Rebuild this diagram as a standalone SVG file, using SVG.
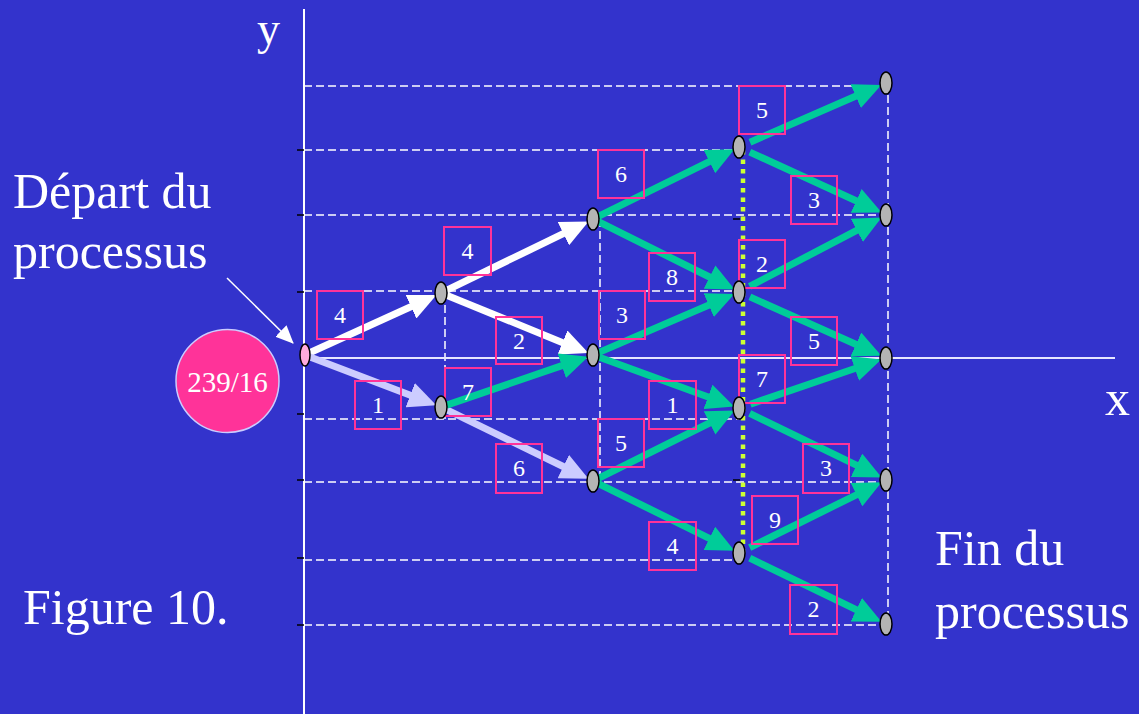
<svg xmlns="http://www.w3.org/2000/svg" width="1139" height="714" viewBox="0 0 1139 714">
<style>
.t{font-family:"Liberation Serif","Times New Roman",serif;fill:#ffffff}
.big{font-size:50px}
.lbl{font-size:24px;text-anchor:middle}
.box{fill:none;stroke:#ff3399;stroke-width:2}
.dash{stroke:#ffffff;stroke-width:1.5;stroke-dasharray:8 4;fill:none}
.tick{stroke:#000000;stroke-width:1.5}
.node{fill:#b4b4b4;stroke:#000000;stroke-width:1.5}
.aw{stroke:#ffffff;stroke-width:7;fill:none;marker-end:url(#mw)}
.al{stroke:#ccccff;stroke-width:7;fill:none;marker-end:url(#ml)}
.ag{stroke:#00cc99;stroke-width:7;fill:none;marker-end:url(#mg)}
</style>
<defs>
<marker id="mw" markerUnits="userSpaceOnUse" viewBox="0 -13 28 26" refX="1" refY="0" markerWidth="28" markerHeight="26" orient="auto"><path d="M0,-13 L28,0 L0,13 z" fill="#ffffff"/></marker>
<marker id="ml" markerUnits="userSpaceOnUse" viewBox="0 -13 28 26" refX="1" refY="0" markerWidth="28" markerHeight="26" orient="auto"><path d="M0,-13 L28,0 L0,13 z" fill="#ccccff"/></marker>
<marker id="mg" markerUnits="userSpaceOnUse" viewBox="0 -13 28 26" refX="1" refY="0" markerWidth="28" markerHeight="26" orient="auto"><path d="M0,-13 L28,0 L0,13 z" fill="#00cc99"/></marker>
<marker id="mp" markerUnits="userSpaceOnUse" viewBox="0 -8 18 16" refX="17" refY="0" markerWidth="18" markerHeight="16" orient="auto"><path d="M0,-8 L18,0 L0,8 z" fill="#ffffff"/></marker>
</defs>
<rect x="0" y="0" width="1139" height="714" fill="#3333cc"/>

<g id="grid">
<line class="dash" x1="304" y1="86" x2="886" y2="86"/>
<line class="dash" x1="304" y1="150" x2="739" y2="150"/>
<line class="dash" x1="304" y1="215" x2="886" y2="215"/>
<line class="dash" x1="304" y1="291" x2="739" y2="291"/>
<line class="dash" x1="304" y1="419" x2="739" y2="419"/>
<line class="dash" x1="304" y1="482" x2="886" y2="482"/>
<line class="dash" x1="304" y1="560" x2="739" y2="560"/>
<line class="dash" x1="304" y1="625" x2="886" y2="625"/>
<line class="dash" x1="445" y1="293" x2="445" y2="419"/>
<line class="dash" x1="600" y1="219" x2="600" y2="482"/>
<line class="dash" x1="888" y1="83" x2="888" y2="624"/>
<line x1="743" y1="150" x2="743" y2="553" stroke="#ccff33" stroke-width="4.5" stroke-dasharray="4.5 5"/>
</g>

<g id="axes">
<line x1="304" y1="9" x2="304" y2="714" stroke="#ffffff" stroke-width="2"/>
<line x1="304" y1="358" x2="1115" y2="358" stroke="#e6e6ff" stroke-width="2"/>
<line class="tick" x1="297" y1="150" x2="304" y2="150"/>
<line class="tick" x1="297" y1="215" x2="304" y2="215"/>
<line class="tick" x1="297" y1="292" x2="304" y2="292"/>
<line class="tick" x1="297" y1="414" x2="304" y2="414"/>
<line class="tick" x1="297" y1="480" x2="304" y2="480"/>
<line class="tick" x1="297" y1="558" x2="304" y2="558"/>
<line class="tick" x1="297" y1="625" x2="304" y2="625"/>
<line class="tick" x1="733" y1="219" x2="740" y2="219"/>
<line class="tick" x1="733" y1="480" x2="740" y2="480"/>
<text class="t" x="257" y="44" font-size="46">y</text>
<text class="t big" x="1105" y="415">x</text>
</g>

<g id="connectors">
<line class="aw" x1="308.6" y1="353.3" x2="411.9" y2="306.3"/>
<line class="aw" x1="446.4" y1="290.3" x2="564.3" y2="233.2"/>
<line class="aw" x1="446.6" y1="295.3" x2="563.4" y2="342.9"/>
<line class="al" x1="308.7" y1="356.4" x2="411.1" y2="395.6"/>
<line class="al" x1="446.4" y1="409.6" x2="564.2" y2="467.0"/>
<line class="ag" x1="446.7" y1="405.1" x2="562.7" y2="365.4"/>
<line class="ag" x1="598.4" y1="216.3" x2="710.3" y2="161.2"/>
<line class="ag" x1="598.4" y1="221.7" x2="710.5" y2="277.5"/>
<line class="ag" x1="598.5" y1="352.6" x2="709.6" y2="304.7"/>
<line class="ag" x1="598.7" y1="357.0" x2="708.9" y2="397.3"/>
<line class="ag" x1="598.4" y1="478.3" x2="710.5" y2="422.5"/>
<line class="ag" x1="598.4" y1="483.7" x2="710.3" y2="538.8"/>
<line class="ag" x1="750.0" y1="142.2" x2="856.6" y2="95.7"/>
<line class="ag" x1="749.8" y1="152.1" x2="857.1" y2="201.3"/>
<line class="ag" x1="749.6" y1="286.4" x2="857.7" y2="229.9"/>
<line class="ag" x1="749.9" y1="296.9" x2="856.8" y2="344.8"/>
<line class="ag" x1="750.4" y1="404.2" x2="855.7" y2="368.2"/>
<line class="ag" x1="749.7" y1="413.4" x2="857.4" y2="465.7"/>
<line class="ag" x1="749.7" y1="547.6" x2="857.4" y2="494.3"/>
<line class="ag" x1="749.8" y1="558.2" x2="857.2" y2="610.1"/>
<line x1="227" y1="278" x2="293" y2="343" stroke="#ffffff" stroke-width="1.5" marker-end="url(#mp)"/>
</g>

<g id="labels">
<rect class="box" x="317" y="291" width="46" height="48"/><text class="t lbl" x="340" y="323">4</text>
<rect class="box" x="355" y="381" width="46" height="48"/><text class="t lbl" x="378" y="413">1</text>
<rect class="box" x="444" y="227" width="47" height="48"/><text class="t lbl" x="467.5" y="259">4</text>
<rect class="box" x="445" y="368" width="46" height="48"/><text class="t lbl" x="468" y="400">7</text>
<rect class="box" x="496" y="317" width="46" height="47"/><text class="t lbl" x="519" y="349">2</text>
<rect class="box" x="496" y="444" width="46" height="49"/><text class="t lbl" x="519" y="476">6</text>
<rect class="box" x="598" y="150" width="46" height="48"/><text class="t lbl" x="621" y="182">6</text>
<rect class="box" x="599" y="291" width="46" height="48"/><text class="t lbl" x="622" y="323">3</text>
<rect class="box" x="598" y="419" width="46" height="48"/><text class="t lbl" x="621" y="451">5</text>
<rect class="box" x="649" y="253" width="46" height="48"/><text class="t lbl" x="672" y="285">8</text>
<rect class="box" x="649" y="381" width="47" height="48"/><text class="t lbl" x="672.5" y="413">1</text>
<rect class="box" x="649" y="522" width="47" height="48"/><text class="t lbl" x="672.5" y="554">4</text>
<rect class="box" x="739" y="86" width="46" height="48"/><text class="t lbl" x="762" y="118">5</text>
<rect class="box" x="739" y="240" width="46" height="48"/><text class="t lbl" x="762" y="272">2</text>
<rect class="box" x="739" y="355" width="46" height="48"/><text class="t lbl" x="762" y="387">7</text>
<rect class="box" x="791" y="176" width="46" height="48"/><text class="t lbl" x="814" y="208">3</text>
<rect class="box" x="791" y="317" width="46" height="48"/><text class="t lbl" x="814" y="349">5</text>
<rect class="box" x="803" y="444" width="46" height="49"/><text class="t lbl" x="826" y="476">3</text>
<rect class="box" x="752" y="496" width="46" height="48"/><text class="t lbl" x="775" y="528">9</text>
<rect class="box" x="790" y="585" width="47" height="49"/><text class="t lbl" x="813.5" y="617">2</text>
</g>

<g id="node-start"><ellipse cx="305" cy="355" rx="5" ry="11" fill="#ffaadd" stroke="#000" stroke-width="1.5"/></g>
<g id="node-a1"><ellipse class="node" cx="441" cy="293" rx="6" ry="11"/></g>
<g id="node-a2"><ellipse class="node" cx="441" cy="407" rx="6" ry="11"/></g>
<g id="node-b1"><ellipse class="node" cx="593" cy="219" rx="6" ry="11"/></g>
<g id="node-b2"><ellipse class="node" cx="593" cy="355" rx="6" ry="11"/></g>
<g id="node-b3"><ellipse class="node" cx="593" cy="481" rx="6" ry="11"/></g>
<g id="node-c1"><ellipse class="node" cx="739" cy="147" rx="6" ry="11"/></g>
<g id="node-c2"><ellipse class="node" cx="739" cy="292" rx="6" ry="11"/></g>
<g id="node-c3"><ellipse class="node" cx="739" cy="408" rx="6" ry="11"/></g>
<g id="node-c4"><ellipse class="node" cx="739" cy="553" rx="6" ry="11"/></g>
<g id="node-d1"><ellipse class="node" cx="886" cy="83" rx="6" ry="11"/></g>
<g id="node-d2"><ellipse class="node" cx="886" cy="215" rx="6" ry="11"/></g>
<g id="node-d3"><ellipse class="node" cx="886" cy="358" rx="6" ry="11"/></g>
<g id="node-d4"><ellipse class="node" cx="886" cy="480" rx="6" ry="11"/></g>
<g id="node-d5"><ellipse class="node" cx="886" cy="624" rx="6" ry="11"/></g>

<g id="node-total">
<circle cx="227.5" cy="381" r="51.5" fill="#ff3399" stroke="#ccccff" stroke-width="1.5"/>
<text class="t" x="227.5" y="392" font-size="29" text-anchor="middle">239/16</text>
</g>

<g id="texts">
<text class="t big" x="13" y="208">Départ du</text>
<text class="t big" x="13" y="268">processus</text>
<text class="t big" x="23" y="624">Figure 10.</text>
<text class="t big" x="935" y="565">Fin du</text>
<text class="t big" x="935" y="628">processus</text>
</g>
</svg>
